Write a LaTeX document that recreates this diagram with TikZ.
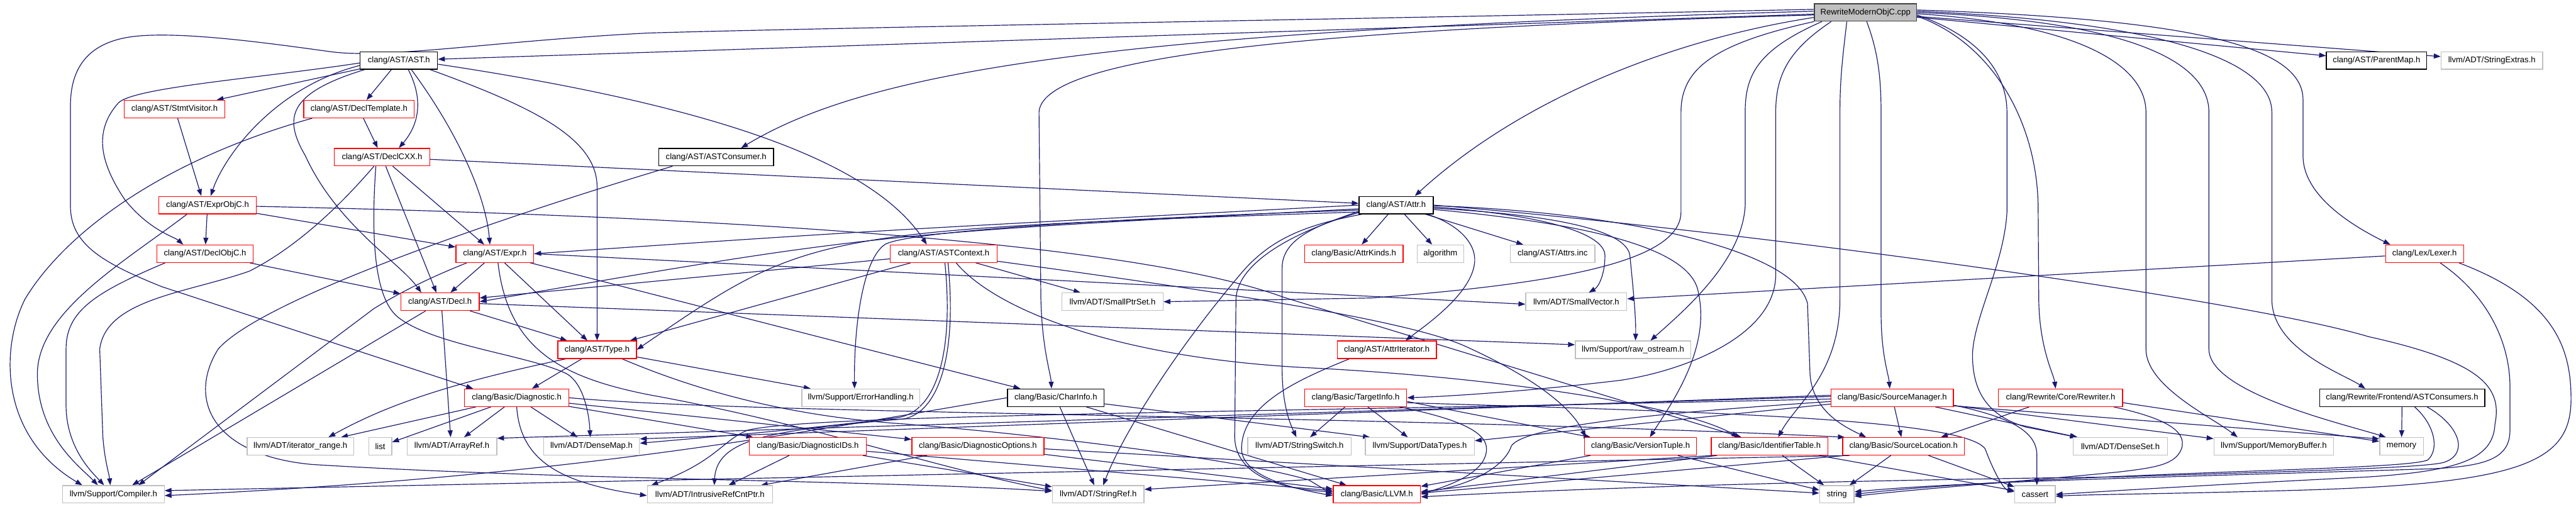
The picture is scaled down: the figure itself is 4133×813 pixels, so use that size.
\documentclass[tikz,border=0pt]{standalone}
\usepackage{fontspec}
\setmainfont{Liberation Sans}
\usetikzlibrary{arrows.meta}
\definecolor{edgecol}{HTML}{191970}
\definecolor{graybd}{HTML}{BFBFBF}
\definecolor{rootbd}{HTML}{404040}
\pgfdeclarelayer{edgelayer}
\pgfsetlayers{edgelayer,main}
\begin{document}
\begin{tikzpicture}[x=1pt,y=-1pt,
  basebox/.style={rectangle, fill=white, inner sep=0pt, minimum height=28pt, line width=1.3pt, font=\fontsize{13.2pt}{15pt}\selectfont},
  redbox/.style={basebox, draw=red},
  blackbox/.style={basebox, draw=black},
  graybox/.style={basebox, draw=graybd},
  rootbox/.style={basebox, draw=rootbd, fill=graybd},
  cn/.style={draw=edgecol, line width=1.2pt, -{Triangle[length=11pt,width=8pt]}}
]
\useasboundingbox (0,0) rectangle (4133,813);
% ---------- nodes ----------
\node[rootbox, minimum width=164pt] (root) at (2993,20) {RewriteModernObjC.cpp};
\node[blackbox, minimum width=124pt] (ast) at (640,97) {clang/AST/AST.h};
\node[blackbox, minimum width=161pt] (parentmap) at (3813,97) {clang/AST/ParentMap.h};
\node[graybox, minimum width=163pt] (strextras) at (3998,97) {llvm/ADT/StringExtras.h};
\node[redbox, minimum width=162pt] (stmtvis) at (280,175) {clang/AST/StmtVisitor.h};
\node[redbox, minimum width=177pt] (decltmpl) at (576,175) {clang/AST/DeclTemplate.h};
\node[redbox, minimum width=153pt] (declcxx) at (613,252) {clang/AST/DeclCXX.h};
\node[blackbox, minimum width=184pt] (astcons) at (1149,252) {clang/AST/ASTConsumer.h};
\node[redbox, minimum width=156pt] (exprobjc) at (333,329) {clang/AST/ExprObjC.h};
\node[blackbox, minimum width=119pt] (attr) at (2240,329) {clang/AST/Attr.h};
\node[redbox, minimum width=154pt] (declobjc) at (329,407) {clang/AST/DeclObjC.h};
\node[redbox, minimum width=125pt] (expr) at (794,407) {clang/AST/Expr.h};
\node[redbox, minimum width=171pt] (astctx) at (1514,407) {clang/AST/ASTContext.h};
\node[redbox, minimum width=158pt] (attrkinds) at (2172,407) {clang/Basic/AttrKinds.h};
\node[graybox, minimum width=75pt] (algo) at (2311,407) {algorithm};
\node[graybox, minimum width=136pt] (attrsinc) at (2491,407) {clang/AST/Attrs.inc};
\node[redbox, minimum width=125pt] (lexer) at (3890,407) {clang/Lex/Lexer.h};
\node[redbox, minimum width=126pt] (decl) at (706,484) {clang/AST/Decl.h};
\node[graybox, minimum width=162pt] (smallptr) at (1785,484) {llvm/ADT/SmallPtrSet.h};
\node[graybox, minimum width=162pt] (smallvec) at (2529,484) {llvm/ADT/SmallVector.h};
\node[redbox, minimum width=126pt] (type) at (958,561) {clang/AST/Type.h};
\node[redbox, minimum width=159pt] (attriter) at (2225,561) {clang/AST/AttrIterator.h};
\node[graybox, minimum width=185pt] (rawos) at (2620,561) {llvm/Support/raw\_ostream.h};
\node[redbox, minimum width=167pt] (diag) at (829,638) {clang/Basic/Diagnostic.h};
\node[graybox, minimum width=189pt] (errh) at (1381,638) {llvm/Support/ErrorHandling.h};
\node[blackbox, minimum width=155pt] (charinfo) at (1694,638) {clang/Basic/CharInfo.h};
\node[redbox, minimum width=164pt] (target) at (2175,638) {clang/Basic/TargetInfo.h};
\node[redbox, minimum width=196pt] (srcmgr) at (3036,638) {clang/Basic/SourceManager.h};
\node[redbox, minimum width=199pt] (rewriter) at (3306,638) {clang/Rewrite/Core/Rewriter.h};
\node[blackbox, minimum width=265pt] (astcs) at (3854,638) {clang/Rewrite/Frontend/ASTConsumers.h};
\node[graybox, minimum width=171pt] (iterrange) at (482,716) {llvm/ADT/iterator\_range.h};
\node[graybox, minimum width=37pt] (list) at (610,716) {list};
\node[graybox, minimum width=144pt] (arrayref) at (725,716) {llvm/ADT/ArrayRef.h};
\node[graybox, minimum width=154pt] (densemap) at (949,716) {llvm/ADT/DenseMap.h};
\node[redbox, minimum width=188pt] (diagids) at (1296,716) {clang/Basic/DiagnosticIDs.h};
\node[redbox, minimum width=212pt] (diagopts) at (1569,716) {clang/Basic/DiagnosticOptions.h};
\node[graybox, minimum width=166pt] (strswitch) at (2085,716) {llvm/ADT/StringSwitch.h};
\node[graybox, minimum width=175pt] (datatypes) at (2278,716) {llvm/Support/DataTypes.h};
\node[redbox, minimum width=180pt] (version) at (2632,716) {clang/Basic/VersionTuple.h};
\node[redbox, minimum width=187pt] (identtab) at (2839,716) {clang/Basic/IdentifierTable.h};
\node[redbox, minimum width=195pt] (srcloc) at (3054,716) {clang/Basic/SourceLocation.h};
\node[graybox, minimum width=151pt] (denseset) at (3402,716) {llvm/ADT/DenseSet.h};
\node[graybox, minimum width=192pt] (membuf) at (3648,716) {llvm/Support/MemoryBuffer.h};
\node[graybox, minimum width=70pt] (memory) at (3853,716) {memory};
\node[graybox, minimum width=163pt] (compiler) at (182,793) {llvm/Support/Compiler.h};
\node[graybox, minimum width=201pt] (intrusive) at (1139,793) {llvm/ADT/IntrusiveRefCntPtr.h};
\node[graybox, minimum width=147pt] (strref) at (1762,793) {llvm/ADT/StringRef.h};
\node[redbox, minimum width=140pt] (llvmh) at (2209,793) {clang/Basic/LLVM.h};
\node[graybox, minimum width=55pt] (string) at (2947,793) {string};
\node[graybox, minimum width=65pt] (cassert) at (3265,793) {cassert};
% ---------- edges ----------
\begin{pgfonlayer}{edgelayer}
% root
\draw[cn] (root) -- (ast);
\draw[cn] (root) -- (parentmap);
\draw[cn] (root) -- (strextras);
\draw[cn] ([yshift=2pt]root.west) .. controls (1800,50) and (1400,110) .. ([xshift=40pt]astcons.north);
\draw[cn] ([yshift=-8pt]root.west) .. controls (2700,60) and (2450,150) .. ([xshift=30pt]attr.north);
\draw[cn] ([yshift=-4pt]root.west) .. controls (2200,45) and (1672,80) .. (1667,180) -- (1670,480) .. controls (1672,560) and (1686,600) .. ([xshift=-7pt]charinfo.north);
\draw[cn] ([yshift=5pt]root.west) .. controls (2200,30) and (1300,45) .. (1040,53) .. controls (800,65) and (620,95) .. (531,83) .. controls (450,72) and (300,50) .. (219,58) .. controls (140,66) and (113,110) .. (113,170) -- (113,330) .. controls (113,390) and (160,420) .. (260,460) -- ([xshift=-70pt]diag.north);
\draw[cn] ([xshift=-30pt]root.south) .. controls (2958,80) and (2952,120) .. (2952,180) -- (2952,480) .. controls (2952,600) and (2880,650) .. ([xshift=14pt]identtab.north);
\draw[cn] ([xshift=2pt]root.south) .. controls (3012,80) and (3018,120) .. (3018,180) -- (3018,500) .. controls (3018,570) and (3030,600) .. ([xshift=-4pt]srcmgr.north);
\draw[cn] ([xshift=-55pt]root.south) .. controls (2870,80) and (2849,120) .. (2849,180) -- (2849,440) .. controls (2849,540) and (2700,595) .. (2600,610) .. controls (2450,628) and (2320,636) .. (target.east);
\draw[cn] ([xshift=-70pt]root.south) .. controls (2820,80) and (2800,120) .. (2800,180) -- (2800,330) .. controls (2795,420) and (2700,500) .. ([xshift=28pt]rawos.north);
\draw[cn] (root.south west) .. controls (2750,70) and (2697,110) .. (2697,180) -- (2697,340) .. controls (2697,420) and (2500,455) .. (2200,478) -- (smallptr.east);
\draw[cn] ([yshift=-4pt]root.east) .. controls (3180,60) and (3220,120) .. (3220,180) -- (3220,340) .. controls (3215,430) and (3160,520) .. (3165,580) .. controls (3168,640) and (3200,670) .. (3250,685) -- ([xshift=-70pt]denseset.north);
\draw[cn] ([yshift=-6pt]root.east) .. controls (3200,70) and (3268,200) .. (3270,330) -- (3271,480) .. controls (3272,560) and (3295,600) .. ([xshift=-8pt]rewriter.north);
\draw[cn] ([yshift=-2pt]root.east) .. controls (3350,40) and (3443,110) .. (3443,180) -- (3443,560) .. controls (3443,620) and (3550,670) .. ([xshift=-58pt]membuf.north);
\draw[cn] (root.east) .. controls (3450,35) and (3544,110) .. (3544,180) -- (3544,560) .. controls (3544,630) and (3760,680) .. ([xshift=-25pt]memory.north);
\draw[cn] ([yshift=2pt]root.east) .. controls (3480,35) and (3645,100) .. (3645,180) -- (3645,480) .. controls (3645,560) and (3760,600) .. ([xshift=-59pt]astcs.north);
\draw[cn] ([yshift=4pt]root.east) .. controls (3500,30) and (3695,70) .. (3695,160) -- (3695,250) .. controls (3695,320) and (3790,370) .. ([xshift=-55pt]lexer.north);
% AST.h
\draw[cn] (ast) -- (stmtvis);
\draw[cn] (ast) -- (decltmpl);
\draw[cn] ([xshift=15pt]ast.south) .. controls (680,160) and (672,200) .. ([xshift=27pt]declcxx.north);
\draw[cn] ([yshift=-8pt]ast.west) .. controls (440,140) and (360,250) .. ([xshift=5pt]exprobjc.north);
\draw[cn] ([yshift=-4pt]ast.west) .. controls (420,125) and (215,140) .. (190,165) .. controls (150,210) and (160,260) .. (200,320) .. controls (240,370) and (280,380) .. ([xshift=-35pt]declobjc.north);
\draw[cn] ([xshift=-55pt]ast.south) .. controls (460,150) and (455,190) .. (490,250) .. controls (540,360) and (640,420) .. ([xshift=-30pt]decl.north);
\draw[cn] ([xshift=20pt]ast.south) .. controls (740,220) and (780,320) .. ([xshift=-8pt]expr.north);
\draw[cn] ([xshift=50pt]ast.south) .. controls (850,170) and (958,220) .. (958,300) -- (type.north);
\draw[cn] ([yshift=-6pt]ast.east) .. controls (1150,170) and (1400,260) .. ([xshift=-27pt]astctx.north);
% StmtVisitor, DeclTemplate
\draw[cn] ([xshift=5pt]stmtvis.south) -- ([xshift=-10pt]exprobjc.north);
\draw[cn] (decltmpl) -- (declcxx);
\draw[cn] ([xshift=-75pt]decltmpl.south) .. controls (250,260) and (100,380) .. (40,480) .. controls (0,560) and (0,700) .. ([xshift=-50pt]compiler.north);
% DeclCXX
\draw[cn] (declcxx) -- (decl);
\draw[cn] (declcxx) -- (expr);
\draw[cn] (declcxx) -- (attr);
\draw[cn] ([xshift=-13pt]declcxx.south) .. controls (520,360) and (450,410) .. (400,435) .. controls (300,470) and (170,480) .. (160,560) -- (165,700) .. controls (168,740) and (175,760) .. ([xshift=-5pt]compiler.north);
\draw[cn] ([xshift=-10pt]declcxx.south) .. controls (595,380) and (600,480) .. (640,510) .. controls (700,555) and (850,570) .. (910,600) .. controls (935,615) and (945,660) .. ([xshift=-2pt]densemap.north);
% ExprObjC
\draw[cn] (exprobjc) -- (declobjc);
\draw[cn] (exprobjc) -- (expr);
\draw[cn] ([xshift=-33pt]exprobjc.south) .. controls (200,420) and (60,500) .. (60,600) .. controls (60,700) and (130,750) .. ([xshift=-25pt]compiler.north);
\draw[cn] ([yshift=-2pt]exprobjc.east) .. controls (1300,350) and (1850,400) .. (2060,477) -- ([xshift=-45pt]identtab.north);
% DeclObjC
\draw[cn] (declobjc) -- (decl);
\draw[cn] ([xshift=-64pt]declobjc.south) .. controls (150,470) and (106,500) .. (106,560) -- (106,650) .. controls (106,720) and (150,760) .. ([xshift=-15pt]compiler.north);
% Expr
\draw[cn] (expr) -- (decl);
\draw[cn] (expr) -- (type);
\draw[cn] ([xshift=-45pt]expr.south) .. controls (690,445) and (640,470) .. (600,495) -- ([xshift=40pt]compiler.north);
\draw[cn] (expr) -- (charinfo);
\draw[cn] (expr.east) -- ([yshift=-4pt]smallvec.west);
\draw[cn] ([xshift=5pt]expr.south) .. controls (815,560) and (900,605) .. (1040,633) .. controls (1300,680) and (1500,750) .. ([yshift=6pt]strref.west);
% Decl
\draw[cn] (decl) -- (type);
\draw[cn] ([xshift=3pt]decl.south) -- ([xshift=-2pt]arrayref.north);
\draw[cn] ([xshift=-23pt]decl.south) -- ([xshift=30pt]compiler.north);
\draw[cn] ([yshift=-3pt]decl.east) -- ([yshift=8pt]rawos.west);
% Type
\draw[cn] (type) -- (diag);
\draw[cn] ([xshift=-50pt]type.south) .. controls (720,615) and (620,650) .. ([xshift=45pt]iterrange.north);
\draw[cn] (type) -- (errh);
\draw[cn] ([xshift=40pt]type.south) .. controls (1150,640) and (1300,670) .. (1450,680) .. controls (1700,700) and (2000,740) .. (2100,770) -- (llvmh.west);
% Diagnostic
\draw[cn] (diag) -- (iterrange);
\draw[cn] (diag) -- (list);
\draw[cn] (diag) -- (arrayref);
\draw[cn] (diag) -- (densemap);
\draw[cn] (diag.south) .. controls (835,740) and (900,775) .. ([yshift=-2pt]intrusive.west);
\draw[cn] (diag) -- (diagids);
\draw[cn] (diag) -- (diagopts);
\draw[cn] (diag.east) .. controls (1200,665) and (2200,665) .. ([xshift=4pt]srcloc.north west);
% DiagnosticIDs / Options
\draw[cn] (diagids) -- (intrusive);
\draw[cn] (diagids) -- (strref);
\draw[cn] (diagids) -- (llvmh);
\draw[cn] (diagopts) -- (intrusive);
\draw[cn] (diagopts) -- (llvmh);
\draw[cn] ([yshift=-4pt]diagopts.east) -- ([yshift=2pt]string.west);
% CharInfo
\draw[cn] (charinfo.west) .. controls (1250,700) and (900,765) .. ([yshift=-2pt]compiler.east);
\draw[cn] (charinfo) -- (strref);
\draw[cn] (charinfo) -- (llvmh);
\draw[cn] (charinfo) -- ([xshift=8pt]datatypes.north west);
% ASTContext
\draw[cn] (astctx) -- (decl);
\draw[cn] (astctx) -- (type);
\draw[cn] (astctx) -- (smallptr);
\draw[cn] ([xshift=7pt]astctx.south) .. controls (1535,560) and (1510,660) .. (1450,672) .. controls (1250,690) and (1150,700) .. ([xshift=7pt]intrusive.north);
\draw[cn] ([xshift=2pt]astctx.south) .. controls (1530,560) and (1505,660) .. (1440,670) .. controls (1300,688) and (1150,700) .. ([yshift=5pt]densemap.east);
\draw[cn] ([xshift=20pt]astctx.south) .. controls (1600,500) and (1800,575) .. (2100,590) .. controls (2400,605) and (2700,650) .. ([xshift=-50pt]identtab.north);
\draw[cn] ([yshift=-12pt]astctx.east) .. controls (1900,460) and (2250,510) .. (2350,555) .. controls (2450,600) and (2520,650) .. ([xshift=-88pt]version.north);
% Attr
\draw[cn] ([xshift=50pt]attr.south) .. controls (2340,360) and (2368,390) .. (2366,420) .. controls (2362,470) and (2290,520) .. ([xshift=30pt]attriter.north);
\draw[cn] ([yshift=-6pt]attr.west) .. controls (1400,375) .. (decl.east);
\draw[cn] (attr.west) .. controls (1400,370) .. (expr.east);
\draw[cn] ([yshift=-11pt]attr.west) .. controls (1300,370) .. (type.east);
\draw[cn] (attr) -- (attrkinds);
\draw[cn] (attr) -- (algo);
\draw[cn] (attr) -- (attrsinc);
\draw[cn] ([yshift=-3pt]attr.east) .. controls (2480,345) and (2575,375) .. (2575,410) .. controls (2575,440) and (2565,460) .. ([xshift=20pt]smallvec.north);
\draw[cn] ([yshift=-5pt]attr.east) .. controls (2500,345) and (2610,370) .. (2615,410) .. controls (2620,460) and (2625,510) .. ([xshift=4pt]rawos.north);
\draw[cn] ([yshift=-7pt]attr.east) .. controls (2560,360) and (2715,400) .. (2725,470) .. controls (2745,560) and (2680,650) .. ([xshift=15pt]version.north);
\draw[cn] ([yshift=-1pt]attr.east) .. controls (2600,340) and (2880,400) .. (2900,487) -- (2904,600) .. controls (2908,660) and (2960,685) .. ([xshift=-60pt]srcloc.north);
\draw[cn] (attr.east) .. controls (2800,370) and (3600,480) .. (3800,540) .. controls (3980,580) and (4015,620) .. (4003,680) .. controls (4000,735) and (3950,755) .. (3800,765) .. controls (3500,780) and (3350,790) .. (cassert.east);
\draw[cn] ([yshift=-8pt]attr.west) .. controls (1800,350) and (1460,370) .. (1420,392) .. controls (1385,415) and (1370,520) .. ([xshift=-10pt]errh.north);
\draw[cn] ([yshift=-10pt]attr.west) .. controls (2120,360) and (2057,380) .. (2057,430) -- (2057,590) .. controls (2057,650) and (2070,680) .. ([xshift=-5pt]strswitch.north);
\draw[cn] ([yshift=-12pt]attr.west) .. controls (2080,370) and (1985,420) .. (1983,480) -- (1981,700) .. controls (1981,765) and (2060,785) .. ([yshift=4pt]llvmh.west);
\draw[cn] ([xshift=-55pt]attr.south) .. controls (2100,360) and (2040,380) .. (1990,440) .. controls (1880,570) and (1800,700) .. ([xshift=8pt]strref.north);
% AttrIterator
\draw[cn] ([xshift=-60pt]attriter.south) .. controls (2080,610) and (1992,650) .. (1992,720) .. controls (1992,765) and (2080,785) .. ([yshift=-2pt]llvmh.west);
% TargetInfo
\draw[cn] (target) -- (strswitch);
\draw[cn] (target) -- (datatypes);
\draw[cn] ([yshift=-6pt]target.east) -- ([xshift=-80pt]version.north);
\draw[cn] ([xshift=70pt]target.south) .. controls (2330,670) and (2385,690) .. (2385,720) .. controls (2385,760) and (2320,780) .. (llvmh.east);
\draw[cn] ([yshift=-8pt]target.east) .. controls (2700,660) and (3150,670) .. (3185,720) .. controls (3200,760) and (3215,785) .. ([yshift=4pt]cassert.west);
% SourceManager
\draw[cn] (srcmgr) -- (srcloc);
\draw[cn] ([yshift=-6pt]srcmgr.west) .. controls (2700,660) and (2450,680) .. (2425,715) .. controls (2410,760) and (2330,785) .. ([yshift=4pt]llvmh.east);
\draw[cn] ([yshift=-2pt]srcmgr.west) .. controls (2000,662) and (1300,665) .. (1200,690) .. controls (1160,705) and (1150,740) .. ([xshift=7pt]intrusive.north west);
\draw[cn] ([yshift=4pt]srcmgr.west) -- ([yshift=12pt]densemap.east);
\draw[cn] ([yshift=2pt]srcmgr.west) -- ([yshift=13pt]arrayref.east);
\draw[cn] (srcmgr) -- (datatypes);
\draw[cn] (srcmgr) -- (denseset);
\draw[cn] (srcmgr) -- (membuf);
\draw[cn] ([yshift=-13pt]srcmgr.east) -- ([yshift=12pt]memory.west);
\draw[cn] ([yshift=-12pt]srcmgr.east) .. controls (3220,668) and (3268,690) .. (3268,730) -- ([xshift=3pt]cassert.north);
% Rewriter
\draw[cn] ([xshift=-50pt]rewriter.south) -- ([xshift=60pt]srcloc.north);
\draw[cn] ([yshift=-8pt]rewriter.east) -- ([yshift=8pt]memory.west);
\draw[cn] ([xshift=85pt]rewriter.south) .. controls (3470,670) and (3510,690) .. (3500,720) .. controls (3490,745) and (3460,750) .. (3400,757) .. controls (3250,772) and (3100,782) .. ([yshift=-3pt]string.east);
% ASTConsumers
\draw[cn] (astcs) -- (memory);
\draw[cn] ([xshift=20pt]astcs.south) .. controls (3905,680) and (3915,720) .. (3895,738) .. controls (3870,748) and (3700,752) .. (3500,760) .. controls (3300,768) and (3100,778) .. (string.east);
\draw[cn] ([xshift=40pt]astcs.south) .. controls (3950,685) and (3960,730) .. (3920,742) .. controls (3880,752) and (3600,758) .. (3400,765) .. controls (3000,770) and (2600,780) .. ([yshift=-4pt]llvmh.east);
% Lexer
\draw[cn] (lexer) -- (smallvec);
\draw[cn] ([xshift=25pt]lexer.south) .. controls (4000,480) and (4027,560) .. (4027,620) -- (4027,690) .. controls (4027,735) and (3990,748) .. (3900,752) .. controls (3500,765) and (3150,772) .. ([yshift=4pt]string.east);
\draw[cn] ([xshift=55pt]lexer.south) .. controls (4100,480) and (4125,560) .. (4125,640) .. controls (4125,740) and (4050,775) .. (3700,786) .. controls (3500,792) and (3350,793) .. ([yshift=-3pt]cassert.east);
% IdentifierTable
\draw[cn] (identtab) -- (string);
\draw[cn] ([xshift=10pt]identtab.south west) -- ([yshift=4pt]llvmh.east);
\draw[cn] ([xshift=3pt]identtab.south west) -- ([yshift=8pt]strref.east);
\draw[cn] ([xshift=-15pt]identtab.south east) -- ([yshift=6pt]cassert.west);
% SourceLocation
\draw[cn] (srcloc) -- (string);
\draw[cn] ([xshift=5pt]srcloc.south west) -- ([yshift=2pt]llvmh.east);
\draw[cn] (srcloc) -- (cassert);
\draw[cn] ([xshift=12pt]srcloc.south west) -- ([yshift=6pt]compiler.east);
% VersionTuple
\draw[cn] (version) -- (string);
\draw[cn] (version) -- (llvmh);
% ASTConsumer
\draw[cn] ([xshift=-70pt]astcons.south) .. controls (800,350) and (420,480) .. (350,560) .. controls (300,640) and (340,730) .. (500,745) .. controls (900,770) and (1400,770) .. ([yshift=5pt]strref.west);
\end{pgfonlayer}
\end{tikzpicture}
\end{document}
